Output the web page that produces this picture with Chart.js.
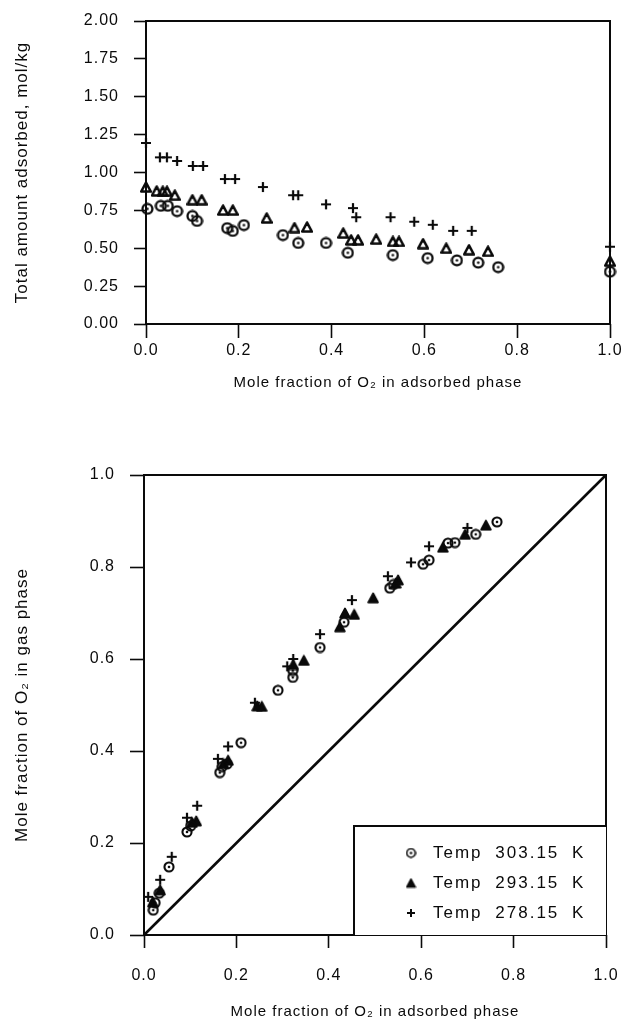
<!DOCTYPE html>
<html>
<head>
<meta charset="utf-8">
<script src="https://cdn.jsdelivr.net/npm/chart.js@4.4.0/dist/chart.umd.min.js"></script>
<style>
  html, body { margin: 0; padding: 0; background: #fff; }
  #wrap { position: relative; width: 624px; height: 1028px; }
  canvas { position: absolute; left: 0; }
  #topChart { top: 0; }
  #bottomChart { top: 410px; }
</style>
</head>
<body>
<div id="wrap">
  <canvas id="topChart" width="624" height="410"></canvas>
  <canvas id="bottomChart" width="624" height="618"></canvas>
</div>
<script>
// tick values / labels
const xTickValues = [0, 0.2, 0.4, 0.6, 0.8, 1.0];
const xTickLabels = ['0.0', '0.2', '0.4', '0.6', '0.8', '1.0'];
const topYTickValues = [0, 0.25, 0.5, 0.75, 1.0, 1.25, 1.5, 1.75, 2.0];
const topYTickLabels = ['0.00', '0.25', '0.50', '0.75', '1.00', '1.25', '1.50', '1.75', '2.00'];
const botYTickValues = [0, 0.2, 0.4, 0.6, 0.8, 1.0];
const botYTickLabels = ['0.0', '0.2', '0.4', '0.6', '0.8', '1.0'];

const seriesLabels = ['Temp 303.15 K', 'Temp 293.15 K', 'Temp 278.15 K'];

// top: total amount adsorbed vs mole fraction O2 in adsorbed phase
const topX303 = [0.003, 0.032, 0.047, 0.067, 0.10, 0.11, 0.175, 0.187, 0.211, 0.295, 0.328, 0.388, 0.435, 0.532, 0.607, 0.67, 0.716, 0.759, 1.0];
const topY303 = [0.76, 0.78, 0.78, 0.745, 0.713, 0.68, 0.633, 0.614, 0.653, 0.587, 0.535, 0.535, 0.47, 0.455, 0.435, 0.42, 0.405, 0.375, 0.345];
const topX293 = [0.0, 0.023, 0.036, 0.045, 0.062, 0.10, 0.12, 0.166, 0.187, 0.26, 0.32, 0.347, 0.425, 0.442, 0.457, 0.496, 0.532, 0.545, 0.597, 0.647, 0.696, 0.737, 1.0];
const topY293 = [0.904, 0.878, 0.876, 0.876, 0.85, 0.82, 0.82, 0.752, 0.752, 0.70, 0.636, 0.64, 0.60, 0.555, 0.555, 0.56, 0.545, 0.545, 0.53, 0.50, 0.49, 0.48, 0.415];
const topX278 = [0.0, 0.03, 0.045, 0.067, 0.101, 0.123, 0.17, 0.192, 0.252, 0.317, 0.328, 0.388, 0.446, 0.453, 0.527, 0.578, 0.618, 0.662, 0.702, 1.0];
const topY278 = [1.195, 1.10, 1.10, 1.076, 1.043, 1.043, 0.957, 0.957, 0.904, 0.85, 0.85, 0.79, 0.765, 0.705, 0.705, 0.675, 0.655, 0.615, 0.615, 0.51];

// bottom: mole fraction O2 in gas phase vs adsorbed phase
const botX303 = [0.02, 0.024, 0.033, 0.054, 0.093, 0.101, 0.164, 0.169, 0.18, 0.21, 0.29, 0.322, 0.322, 0.381, 0.433, 0.532, 0.54, 0.604, 0.617, 0.658, 0.673, 0.718, 0.764];
const botY303 = [0.054, 0.07, 0.091, 0.148, 0.224, 0.237, 0.353, 0.366, 0.372, 0.418, 0.532, 0.56, 0.575, 0.625, 0.68, 0.754, 0.762, 0.806, 0.815, 0.852, 0.853, 0.871, 0.898];
const botX293 = [0.019, 0.035, 0.104, 0.113, 0.172, 0.182, 0.245, 0.255, 0.323, 0.346, 0.424, 0.435, 0.455, 0.496, 0.545, 0.55, 0.647, 0.695, 0.74];
const botY293 = [0.072, 0.098, 0.245, 0.248, 0.373, 0.38, 0.498, 0.497, 0.588, 0.597, 0.67, 0.70, 0.697, 0.733, 0.765, 0.772, 0.843, 0.871, 0.891];
const botX278 = [0.009, 0.035, 0.06, 0.093, 0.115, 0.16, 0.182, 0.24, 0.31, 0.323, 0.381, 0.45, 0.528, 0.578, 0.617, 0.70];
const botY278 = [0.083, 0.12, 0.17, 0.255, 0.281, 0.383, 0.41, 0.505, 0.584, 0.60, 0.654, 0.728, 0.78, 0.81, 0.845, 0.885];

// y = x reference line
const diagX = [0, 1];
const diagY = [0, 1];

const INK = '#0a0a0a';
const FONT = '"Liberation Sans", Arial, sans-serif';
const SPACING = '1px';

Chart.defaults.font.family = FONT;
Chart.defaults.color = INK;

const pts = (xs, ys) => xs.map((x, i) => ({ x: x, y: ys[i] }));

// small canvas markers, like the hand drawn symbols of the figure
function marker(kind, size, lw, filled) {
  const c = document.createElement('canvas');
  c.width = c.height = size;
  const g = c.getContext('2d');
  const m = size / 2;
  g.strokeStyle = INK;
  g.fillStyle = INK;
  g.lineWidth = lw;
  if (kind === 'circle') {
    g.beginPath();
    g.arc(m, m, m - lw / 2 - 0.4, 0, Math.PI * 2);
    g.stroke();
    g.beginPath();
    g.arc(m, m, 1.3, 0, Math.PI * 2);
    g.fill();
  } else if (kind === 'tri') {
    g.beginPath();
    g.moveTo(m, 1.5);
    g.lineTo(size - 1.2, size - 1.5);
    g.lineTo(1.2, size - 1.5);
    g.closePath();
    g.lineJoin = 'round';
    if (filled) g.fill();
    g.stroke();
  } else {
    g.lineCap = 'butt';
    g.beginPath();
    g.moveTo(1, m); g.lineTo(size - 1, m);
    g.moveTo(m, 1); g.lineTo(m, size - 1);
    g.stroke();
  }
  return c;
}

const spacingPlugin = {
  id: 'spacing',
  beforeLayout(chart) { chart.ctx.letterSpacing = SPACING; },
  beforeDraw(chart) { chart.ctx.letterSpacing = SPACING; }
};

const framePlugin = {
  id: 'frame',
  beforeDatasetsDraw(chart) {
    const a = chart.chartArea;
    const ctx = chart.ctx;
    ctx.save();
    ctx.strokeStyle = INK;
    ctx.lineWidth = 2;
    ctx.strokeRect(a.left, a.top, a.right - a.left, a.bottom - a.top);
    ctx.restore();
  }
};

const legendPlugin = {
  id: 'legendBox',
  afterDatasetsDraw(chart) {
    const ctx = chart.ctx;
    const a = chart.chartArea;
    const left = 354, top = 416;
    ctx.save();
    ctx.fillStyle = '#fff';
    ctx.fillRect(left, top, a.right - left, a.bottom - top);
    ctx.strokeStyle = INK;
    ctx.lineWidth = 2;
    ctx.beginPath();
    ctx.moveTo(left, a.bottom);
    ctx.lineTo(left, top);
    ctx.lineTo(a.right, top);
    ctx.stroke();
    ctx.letterSpacing = '2px';
    ctx.wordSpacing = '6px';
    ctx.font = '17px ' + FONT;
    ctx.textBaseline = 'middle';
    ctx.fillStyle = INK;
    chart.data.datasets.filter(d => d.legendIcon).forEach((d, i) => {
      const y = top + 27 + i * 30;
      const icon = d.legendIcon;
      ctx.drawImage(icon, 411 - icon.width / 2, y - icon.height / 2);
      ctx.fillText(d.label, 433, y);
    });
    ctx.restore();
  }
};

function axis(opts) {
  return {
    type: 'linear',
    min: opts.min,
    max: opts.max,
    afterFit: opts.fit,
    afterBuildTicks: s => { s.ticks = opts.values.map(v => ({ value: v })); },
    grid: { drawOnChartArea: false, drawTicks: true, tickLength: opts.tick, tickWidth: 1.6, tickColor: INK },
    border: { display: false },
    ticks: {
      padding: opts.pad,
      color: INK,
      font: { size: 16 },
      callback: (v, i) => opts.labels[i]
    },
    title: {
      display: true,
      text: opts.title,
      color: INK,
      font: { size: opts.titleSize },
      padding: { top: opts.titlePad, bottom: 0 }
    }
  };
}

// fixed axis boxes so the plot areas sit where the figure has them
const fixHeight = h => s => { s.height = h; s.paddingLeft = 0; s.paddingRight = 0; };
const fixWidth = w => s => { s.width = w; s.paddingTop = 0; s.paddingBottom = 0; };

function scatterSet(label, xs, ys, icon, legendIcon) {
  return {
    label: label,
    data: pts(xs, ys),
    pointStyle: icon,
    pointRadius: 5,
    pointHoverRadius: 5,
    showLine: false,
    clip: false,
    legendIcon: legendIcon
  };
}

// top chart
const topCircle = marker('circle', 13, 2.3);
const topTri = marker('tri', 12, 2.6, false);
const topPlus = marker('plus', 12, 2.2);

new Chart(document.getElementById('topChart'), {
  type: 'scatter',
  data: {
    datasets: [
      scatterSet(seriesLabels[0], topX303, topY303, topCircle),
      scatterSet(seriesLabels[1], topX293, topY293, topTri),
      scatterSet(seriesLabels[2], topX278, topY278, topPlus)
    ]
  },
  options: {
    responsive: false,
    devicePixelRatio: 1,
    animation: false,
    events: [],
    layout: { padding: { left: 0, right: 14, top: 21, bottom: 18 } },
    plugins: { legend: { display: false }, tooltip: { enabled: false } },
    scales: {
      x: axis({ min: 0, max: 1, values: xTickValues, labels: xTickLabels, tick: 14, pad: 3,
                fit: fixHeight(68), title: 'Mole fraction of O\u2082 in adsorbed phase', titlePad: 0, titleSize: 15 }),
      y: axis({ min: 0, max: 2, values: topYTickValues, labels: topYTickLabels, tick: 12, pad: 15,
                fit: fixWidth(146), title: 'Total amount adsorbed, mol/kg', titlePad: 12, titleSize: 17 })
    }
  },
  plugins: [spacingPlugin, framePlugin]
});

// bottom chart
const botCircle = marker('circle', 12, 2.1);
const botTri = marker('tri', 12, 1.8, true);
const botPlus = marker('plus', 12, 2.2);

new Chart(document.getElementById('bottomChart'), {
  type: 'scatter',
  data: {
    datasets: [
      scatterSet(seriesLabels[0], botX303, botY303, botCircle, marker('circle', 11, 1.7)),
      scatterSet(seriesLabels[1], botX293, botY293, botTri, marker('tri', 11, 1.5, true)),
      scatterSet(seriesLabels[2], botX278, botY278, botPlus, marker('plus', 10, 2)),
      {
        label: 'y = x',
        data: pts(diagX, diagY),
        showLine: true,
        pointRadius: 0,
        borderColor: INK,
        borderWidth: 2.6,
        clip: false
      }
    ]
  },
  options: {
    responsive: false,
    devicePixelRatio: 1,
    animation: false,
    events: [],
    layout: { padding: { left: 0, right: 18, top: 65, bottom: 7 } },
    plugins: { legend: { display: false }, tooltip: { enabled: false } },
    scales: {
      x: axis({ min: 0, max: 1, values: xTickValues, labels: xTickLabels, tick: 13, pad: 18,
                fit: fixHeight(86), title: 'Mole fraction of O\u2082 in adsorbed phase', titlePad: 0, titleSize: 15 }),
      y: axis({ min: 0, max: 1, values: botYTickValues, labels: botYTickLabels, tick: 14, pad: 15,
                fit: fixWidth(144), title: 'Mole fraction of O\u2082 in gas phase', titlePad: 12, titleSize: 17 })
    }
  },
  plugins: [spacingPlugin, framePlugin, legendPlugin]
});
</script>
</body>
</html>
